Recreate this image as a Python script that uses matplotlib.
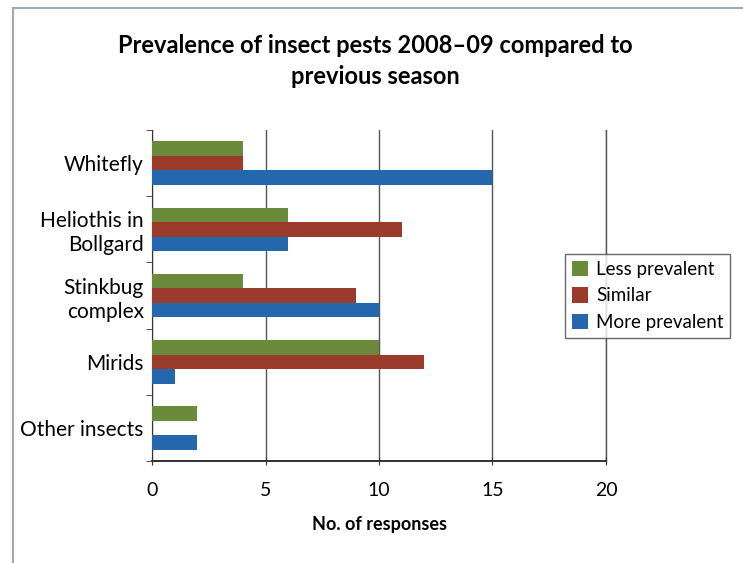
import numpy as np
import matplotlib
matplotlib.use("Agg")
import matplotlib.pyplot as plt
from matplotlib.patches import Rectangle

# data (top to bottom)
categories = ["Whitefly", "Heliothis in\nBollgard", "Stinkbug\ncomplex", "Mirids", "Other insects"]
less_prevalent = [4, 6, 4, 10, 2]
similar = [4, 11, 9, 12, 0]
more_prevalent = [15, 6, 10, 1, 2]
series_names = ["Less prevalent", "Similar", "More prevalent"]
x_ticks = [0, 5, 10, 15, 20]

COLORS = ["#6b8a3c", "#9a3b2b", "#2467ad"]

plt.rcParams['font.family'] = ['Lato', 'DejaVu Sans']

fig = plt.figure(figsize=(7.43, 5.63), dpi=100)
ax = fig.add_axes([0.2046, 0.181, 0.611, 0.588])

n = len(categories)
ypos = np.arange(n)[::-1]  # Whitefly at top
h = 0.22
for vals, off, col, name in zip([less_prevalent, similar, more_prevalent], [h, 0, -h], COLORS, series_names):
    ax.barh(ypos + off, vals, height=h, color=col, label=name, zorder=3)

ax.set_xlim(0, 20)
ax.set_ylim(-0.5, n - 0.5)
ax.set_xticks(x_ticks)
ax.set_xticklabels([str(t) for t in x_ticks], fontsize=14)
ax.set_yticks(ypos)
ax.set_yticklabels(categories, fontsize=15, linespacing=1.25)
ax.tick_params(axis='y', length=0, pad=6)
ax.set_yticks(np.arange(n + 1) - 0.5, minor=True)
ax.tick_params(axis='y', which='minor', length=4, direction='out', color='#333333')
ax.tick_params(axis='x', length=6, direction='inout', color='#333333', pad=12)

ax.grid(axis='x', color='#555555', linewidth=1.0, zorder=0)
ax.axvline(20, color='#555555', linewidth=1.0, zorder=0, clip_on=False)
for s in ['top', 'right']:
    ax.spines[s].set_visible(False)
ax.spines['left'].set_color('#333333')
ax.spines['bottom'].set_color('#333333')
ax.spines['bottom'].set_linewidth(1.4)

ax.set_xlabel("No. of responses", fontsize=13, fontweight='bold', labelpad=12)

fig.text(0.505, 0.892, "Prevalence of insect pests 2008\u201309 compared to\nprevious season",
         ha='center', va='center', fontsize=17, fontweight='bold', linespacing=1.45)

leg = ax.legend(loc='upper left', bbox_to_anchor=(565 / 743, 1 - 254 / 563),
                bbox_transform=fig.transFigure, fontsize=13.5, frameon=True, fancybox=False,
                edgecolor='#444444', handlelength=0.9, handleheight=0.9, handletextpad=0.4,
                borderpad=0.35, labelspacing=0.5, borderaxespad=0)
leg.get_frame().set_linewidth(1.0)

# thin frame around the chart area
fig.patches.append(Rectangle((13 / 743, -0.01), 1.0, 1 - 8 / 563 + 0.01, transform=fig.transFigure,
                             fill=False, edgecolor='#9aa9b8', linewidth=1.5))

fig.savefig("out.png", dpi=100)
